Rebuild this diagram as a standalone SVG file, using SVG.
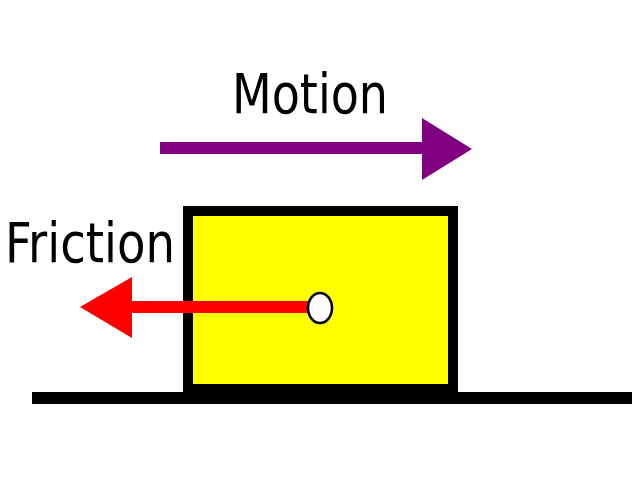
<svg xmlns="http://www.w3.org/2000/svg" width="638" height="478" viewBox="0 0 638 478">
<style>text{font-family:"DejaVu Sans Condensed","DejaVu Sans",sans-serif;font-size:56px;fill:#000}</style>
<rect width="638" height="478" fill="#fff"/>
<g id="ground"><rect x="32" y="392" width="600" height="12" fill="#000"/></g>
<g id="block"><rect x="188" y="211" width="265" height="178" fill="#ffff00" stroke="#000" stroke-width="10"/></g>
<g id="connectors">
<line x1="160" y1="148" x2="425" y2="148" stroke="#800080" stroke-width="12"/>
<polygon points="422,118 472,149 422,180" fill="#800080"/>
<line x1="128" y1="307" x2="312" y2="307" stroke="#ff0000" stroke-width="12"/>
<polygon points="132,277 80,307 132,338" fill="#ff0000"/>
</g>
<g id="center"><ellipse cx="320" cy="308" rx="12" ry="15" fill="#fff" stroke="#000" stroke-width="2.5"/></g>
<text x="232" y="113" textLength="156" lengthAdjust="spacingAndGlyphs">Motion</text>
<text x="5" y="262" textLength="170" lengthAdjust="spacingAndGlyphs">Friction</text>
</svg>
